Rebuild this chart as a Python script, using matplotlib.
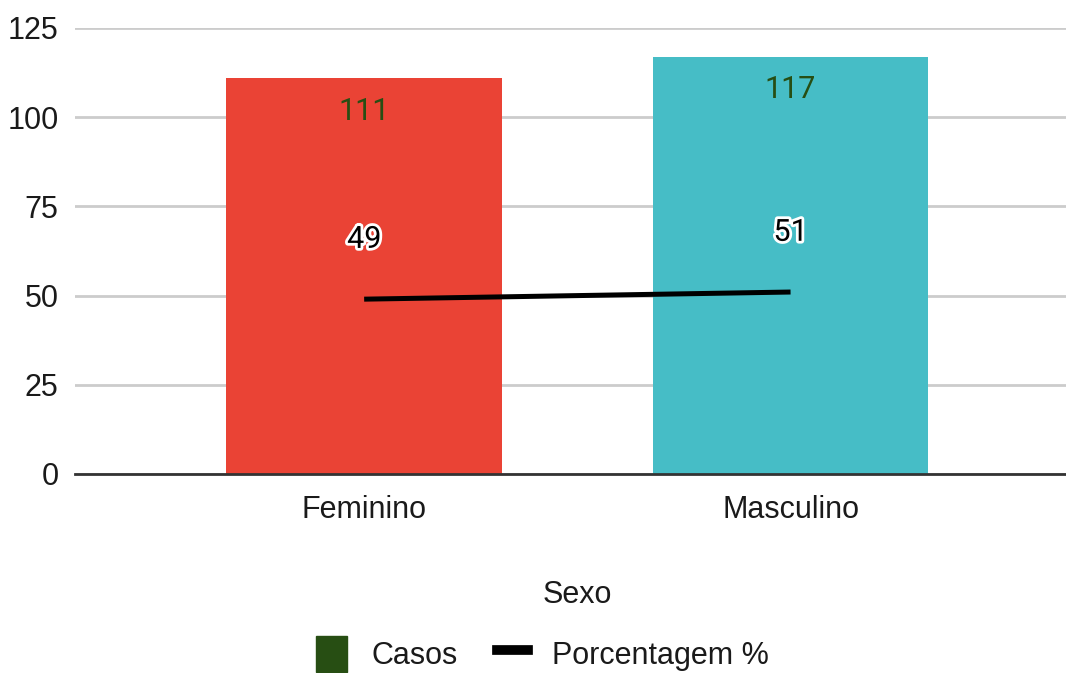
import matplotlib
matplotlib.use("Agg")
import matplotlib.pyplot as plt
import matplotlib.patheffects as pe
from matplotlib.patches import Patch
from matplotlib.lines import Line2D

# dados
categorias = ["Feminino", "Masculino"]
casos = [111, 117]
porcentagem = [49, 51]
cores_barras = ["#EA4335", "#46BDC6"]

plt.rcParams['font.family'] = ['Liberation Sans', 'DejaVu Sans']

fig = plt.figure(figsize=(10.66, 6.73), dpi=100)
ax = fig.add_axes([0.0704, 0.2957, 0.9296, 0.6627])

x = list(range(len(categorias)))
ax.bar(x, casos, width=0.647, color=cores_barras, zorder=2)
ax.plot(x, porcentagem, color="black", lw=3.6, zorder=3, solid_capstyle="butt")

for xi, v in zip(x, casos):
    ax.annotate(str(v), (xi, v), xytext=(0, -24), textcoords="offset points",
                ha="center", va="center", fontsize=22, color="#274E13",
                family=["Roboto", "DejaVu Sans"], zorder=4)

for xi, v in zip(x, porcentagem):
    ax.annotate(str(v), (xi, v), xytext=(0, 43), textcoords="offset points",
                ha="center", va="center", fontsize=22, color="black",
                family=["Roboto", "DejaVu Sans"], zorder=4,
                path_effects=[pe.withStroke(linewidth=4, foreground="white")])

ax.set_ylim(0, 125)
ax.set_yticks([0, 25, 50, 75, 100, 125])
ax.set_xlim(-0.678, 1.646)
ax.set_xticks(x)
ax.set_xticklabels(categorias)
ax.tick_params(axis="both", length=0, labelsize=22, colors="#1a1a1a")
ax.tick_params(axis="x", pad=15)
ax.tick_params(axis="y", pad=12)
ax.yaxis.grid(True, color="#CCCCCC", lw=2)
ax.set_axisbelow(True)
for s in ["top", "right", "left"]:
    ax.spines[s].set_visible(False)
ax.spines["bottom"].set_color("#333333")
ax.spines["bottom"].set_linewidth(2)
ax.spines["bottom"].set_zorder(5)

fig.text(0.542, 1 - 595 / 673, "Sexo", ha="center", va="center", fontsize=22, color="#1a1a1a")

handles = [Patch(facecolor="#274E13", edgecolor="#274E13"),
           Line2D([], [], color="black", lw=7)]
fig.legend(handles, ["Casos", "Porcentagem %"], loc="center",
           bbox_to_anchor=(0.509, 1 - 654 / 673), ncol=2, frameon=False,
           fontsize=22, handlelength=1.0, handleheight=1.4, columnspacing=1.3,
           handletextpad=0.8, labelcolor="#1a1a1a", borderpad=0.2)

fig.savefig("out.png", dpi=100)
